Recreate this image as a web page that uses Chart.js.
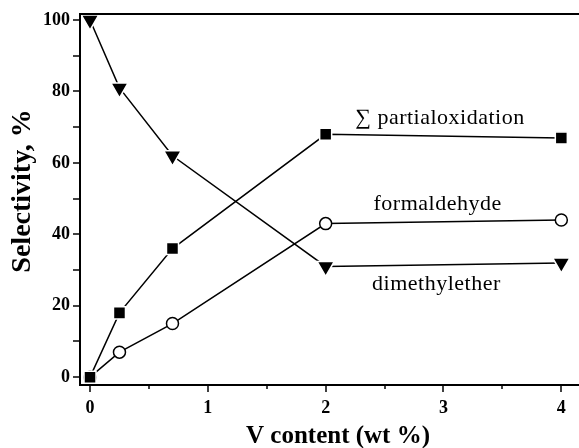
<!DOCTYPE html>
<html>
<head>
<meta charset="utf-8">
<script src="https://cdn.jsdelivr.net/npm/chart.js@4.4.1/dist/chart.umd.min.js"></script>
<style>
    html, body { margin: 0; padding: 0; background: #fff; }
    #c { display: block; }
</style>
</head>
<body>
<canvas id="c" width="579" height="448"></canvas>
<script>
// data
const vContent = [0, 0.25, 0.7, 2, 4]
const partialOx = [0, 18, 36, 68, 67]
const formaldehyde = [0, 7, 15, 43, 44]
const dimethylether = [100, 81, 62, 31, 32]

const xTicks = [0, 0.5, 1, 1.5, 2, 2.5, 3, 3.5, 4]
const yTicks = [0, 10, 20, 30, 40, 50, 60, 70, 80, 90, 100]
const seriesNames = ['\u2211 partialoxidation', 'formaldehyde', 'dimethylether']

const serif = '"Liberation Serif", "Times New Roman", serif'

const toPoints = ys => vContent.map((x, i) => ({ x: x, y: ys[i] }))

// axes, ticks, titles and the in-plot labels
const figureFrame = {
    id: 'figureFrame',
    afterDraw(chart) {
        const ctx = chart.ctx
        const { left, right, top, bottom } = chart.chartArea
        const xs = chart.scales.x
        const ys = chart.scales.y
        ctx.save()
        ctx.strokeStyle = '#000'
        ctx.lineWidth = 2
        ctx.beginPath()
        ctx.moveTo(right, top)
        ctx.lineTo(left, top)
        ctx.lineTo(left, bottom)
        ctx.lineTo(right, bottom)
        ctx.stroke()

        ctx.lineWidth = 1.5
        xTicks.forEach(v => {
            const px = Math.round(xs.getPixelForValue(v))
            const len = Number.isInteger(v) ? 7 : 4
            ctx.beginPath()
            ctx.moveTo(px, bottom)
            ctx.lineTo(px, bottom + len)
            ctx.stroke()
        })
        yTicks.forEach(v => {
            const py = Math.round(ys.getPixelForValue(v))
            ctx.beginPath()
            ctx.moveTo(left, py)
            ctx.lineTo(left - 7, py)
            ctx.stroke()
        })

        ctx.fillStyle = '#000'
        ctx.textAlign = 'center'
        ctx.textBaseline = 'middle'
        ctx.font = 'bold 25px ' + serif
        ctx.fillText('V content (wt %)', 338, 437)
        ctx.save()
        ctx.translate(23, 191)
        ctx.rotate(-Math.PI / 2)
        ctx.font = 'bold 28px ' + serif
        ctx.fillText('Selectivity, %', 0, 0)
        ctx.restore()

        ctx.font = '22px ' + serif
        ctx.letterSpacing = '0.5px'
        const spots = [[2.97, 72.6], [2.95, 48.3], [2.94, 25.9]]
        seriesNames.forEach((name, i) => {
            ctx.fillText(name, xs.getPixelForValue(spots[i][0]), ys.getPixelForValue(spots[i][1]))
        })
        ctx.restore()
    }
}

new Chart(document.getElementById('c'), {
    type: 'scatter',
    data: {
        datasets: [{
            label: seriesNames[0],
            data: toPoints(partialOx),
            showLine: true,
            borderColor: '#000',
            borderWidth: 1.5,
            pointStyle: 'rect',
            pointRadius: 8.5,
            pointBackgroundColor: '#000',
            pointBorderColor: '#fff',
            pointBorderWidth: 1.5
        }, {
            label: seriesNames[1],
            data: toPoints(formaldehyde),
            showLine: true,
            borderColor: '#000',
            borderWidth: 1.5,
            pointStyle: 'circle',
            pointRadius: 6,
            pointBackgroundColor: '#fff',
            pointBorderColor: '#000',
            pointBorderWidth: 1.5
        }, {
            label: seriesNames[2],
            data: toPoints(dimethylether),
            showLine: true,
            borderColor: '#000',
            borderWidth: 1.5,
            pointStyle: 'triangle',
            pointRotation: 180,
            pointRadius: 10,
            pointBackgroundColor: '#000',
            pointBorderColor: '#fff',
            pointBorderWidth: 1.5
        }]
    },
    options: {
        responsive: false,
        animation: false,
        clip: false,
        layout: { autoPadding: false, padding: { top: 14, right: 0, left: 0, bottom: 0 } },
        plugins: {
            legend: { display: false },
            tooltip: { enabled: false }
        },
        scales: {
            x: {
                type: 'linear',
                min: -0.085,
                max: 4.15,
                afterBuildTicks: s => { s.ticks = xTicks.map(v => ({ value: v })) },
                afterFit: s => { s.height = 63; s.paddingLeft = 0; s.paddingRight = 0 },
                grid: { display: false, drawTicks: false },
                border: { display: false },
                ticks: {
                    padding: 13,
                    color: '#000',
                    font: { family: serif, size: 18, weight: 'bold' },
                    callback: v => Number.isInteger(v) ? v : ''
                }
            },
            y: {
                min: -2.2,
                max: 101.7,
                afterBuildTicks: s => { s.ticks = yTicks.map(v => ({ value: v })) },
                afterFit: s => { s.width = 80; s.paddingTop = 0; s.paddingBottom = 0 },
                grid: { display: false, drawTicks: false },
                border: { display: false },
                ticks: {
                    padding: 10,
                    color: '#000',
                    font: { family: serif, size: 18, weight: 'bold' },
                    callback: v => v % 20 === 0 ? v : ''
                }
            }
        }
    },
    plugins: [figureFrame]
})
</script>
</body>
</html>
